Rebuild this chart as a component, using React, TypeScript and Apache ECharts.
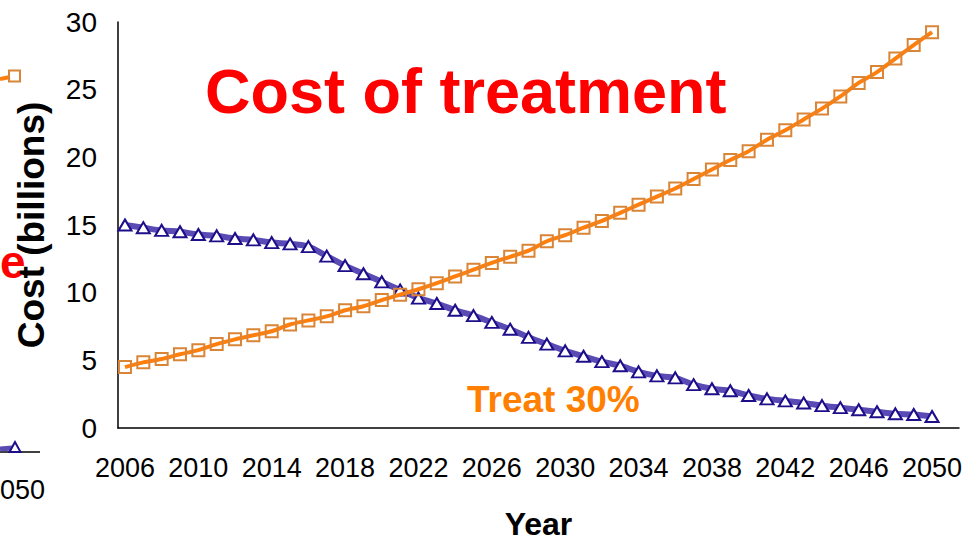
import React, { useEffect, useRef } from "react";
import * as echarts from "echarts";

const years = [
  2006, 2007, 2008, 2009, 2010, 2011, 2012, 2013, 2014, 2015, 2016,
  2017, 2018, 2019, 2020, 2021, 2022, 2023, 2024, 2025, 2026,
  2027, 2028, 2029, 2030, 2031, 2032, 2033, 2034, 2035, 2036,
  2037, 2038, 2039, 2040, 2041, 2042, 2043, 2044, 2045, 2046,
  2047, 2048, 2049, 2050,
];

const blueCost = [
  15.0, 14.8, 14.6, 14.5, 14.3, 14.2, 14.0, 13.9, 13.7, 13.6, 13.4,
  12.7, 12.0, 11.4, 10.8, 10.2, 9.6, 9.2, 8.7, 8.3, 7.8,
  7.3, 6.7, 6.2, 5.7, 5.3, 4.9, 4.6, 4.15, 3.85, 3.7,
  3.2, 2.9, 2.75, 2.4, 2.15, 2.0, 1.85, 1.65, 1.5, 1.35,
  1.2, 1.05, 1.0, 0.85,
];

const treat30Cost = [
  4.5, 4.85, 5.1, 5.45, 5.75, 6.2, 6.55, 6.85, 7.15, 7.65, 7.95,
  8.25, 8.7, 9.0, 9.45, 9.85, 10.25, 10.7, 11.2, 11.7, 12.2,
  12.65, 13.1, 13.8, 14.25, 14.8, 15.3, 15.9, 16.5, 17.1, 17.7,
  18.4, 19.1, 19.8, 20.45, 21.3, 22.0, 22.8, 23.6, 24.5, 25.5,
  26.3, 27.3, 28.3, 29.25,
];

const xTickLabels = [2006, 2010, 2014, 2018, 2022, 2026, 2030, 2034, 2038, 2042, 2046, 2050];

const FONT = '"Liberation Sans", Arial, sans-serif';

export default function App() {
  const ref = useRef<HTMLDivElement>(null);
  useEffect(() => {
    if (!ref.current) return;
    const chart = echarts.init(ref.current, undefined, { renderer: "svg" });
    chart.setOption({
      animation: false,
      backgroundColor: "#ffffff",
      grid: { left: 118, right: 20, top: 22, bottom: 114, containLabel: false },
      xAxis: {
        type: "value",
        min: 2005.62,
        max: 2051.47,
        name: "Year",
        nameLocation: "middle",
        nameGap: 80,
        nameTextStyle: { fontFamily: FONT, fontWeight: "bold", fontSize: 32, color: "#000", verticalAlign: "top" },
        axisLine: { show: true, onZero: false, lineStyle: { color: "#000", width: 1.5 } },
        axisTick: { show: false },
        splitLine: { show: false },
        axisLabel: {
          customValues: xTickLabels,
          margin: 26,
          fontFamily: FONT,
          fontSize: 27,
          color: "#000",
          formatter: (v: number) => String(v),
        },
      },
      yAxis: {
        type: "value",
        min: 0,
        max: 30,
        interval: 5,
        name: "Cost (billions)",
        nameLocation: "middle",
        nameGap: 68,
        nameRotate: 90,
        nameTextStyle: { fontFamily: FONT, fontWeight: "bold", fontSize: 37, color: "#000" },
        axisLine: { show: true, lineStyle: { color: "#000", width: 1.5 } },
        axisTick: { show: false },
        splitLine: { show: false },
        axisLabel: { margin: 21, fontFamily: FONT, fontSize: 28, color: "#000" },
      },
      graphic: [
        {
          type: "text",
          x: 205,
          y: 91,
          style: {
            text: "Cost of treatment",
            fill: "#ff0000",
            font: 'bold 63px "Liberation Sans", Arial, sans-serif',
            align: "left",
            verticalAlign: "middle",
          },
        },
        {
          type: "text",
          x: 467,
          y: 399,
          style: {
            text: "Treat 30%",
            fill: "#ff8000",
            font: 'bold 37px "Liberation Sans", Arial, sans-serif',
            align: "left",
            verticalAlign: "middle",
          },
        },
        {
          type: "text",
          x: 0,
          y: 262,
          style: {
            text: "e",
            fill: "#ff0000",
            font: 'bold 46px "Liberation Sans", Arial, sans-serif',
            align: "left",
            verticalAlign: "middle",
          },
        },
        {
          type: "text",
          x: 0,
          y: 490,
          style: {
            text: "050",
            fill: "#000",
            font: '27px "Liberation Sans", Arial, sans-serif',
            align: "left",
            verticalAlign: "middle",
          },
        },
        { type: "line", shape: { x1: 0, y1: 452, x2: 40, y2: 452 }, style: { stroke: "#000", lineWidth: 1.5 } },
        { type: "line", shape: { x1: 0, y1: 449, x2: 12, y2: 448 }, style: { stroke: "#5a4bb4", lineWidth: 5 } },
        {
          type: "polygon",
          shape: { points: [[15, 442], [9.5, 452], [20.5, 452]] },
          style: { fill: "#fff", stroke: "#1d0e8a", lineWidth: 2 },
        },
        { type: "line", shape: { x1: 0, y1: 79, x2: 10, y2: 77 }, style: { stroke: "#ff7f0e", lineWidth: 4 } },
        {
          type: "rect",
          shape: { x: 9, y: 70.5, width: 11, height: 11 },
          style: { fill: "none", stroke: "#d98538", lineWidth: 2 },
        },
      ],
      series: [
        {
          type: "line",
          name: "Base",
          data: years.map((y, i) => [y, blueCost[i]]),
          smooth: 0.3,
          symbol: "triangle",
          symbolSize: [13, 11],
          lineStyle: { color: "#5a4bb4", width: 6 },
          itemStyle: { color: "#ffffff", borderColor: "#1d0e8a", borderWidth: 2 },
          z: 2,
        },
        {
          type: "line",
          name: "Treat 30%",
          data: years.map((y, i) => [y, treat30Cost[i]]),
          smooth: 0.3,
          symbol: "rect",
          symbolSize: 12,
          lineStyle: { color: "#ff7f0e", width: 4 },
          itemStyle: { color: "rgba(255,255,255,0)", borderColor: "#d98538", borderWidth: 2 },
          z: 3,
        },
      ],
    });
    return () => chart.dispose();
  }, []);
  return (
    <div
      ref={ref}
      style={{ position: "fixed", left: 0, top: 0, width: 979, height: 545, background: "#fff" }}
    />
  );
}
